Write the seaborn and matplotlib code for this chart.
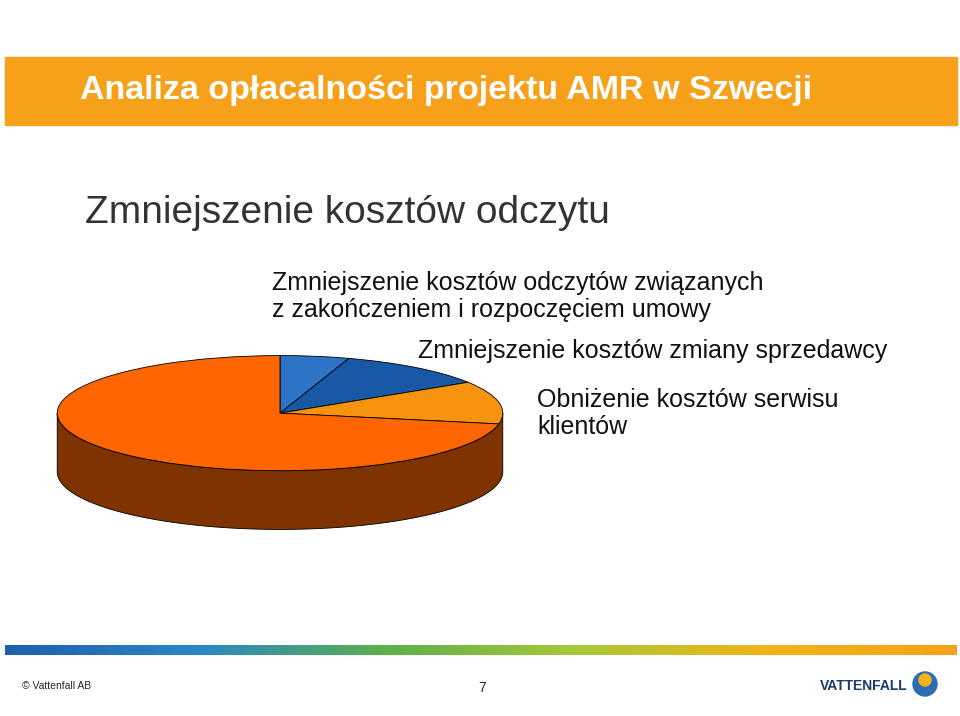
import numpy as np
import matplotlib
matplotlib.use("Agg")
import matplotlib.pyplot as plt
from matplotlib.colors import LinearSegmentedColormap
from matplotlib.patches import Rectangle, Polygon, Circle
import seaborn as sns

sns.set_style("white")
plt.rcParams["font.family"] = "Liberation Sans"

# --- data ---
SLICE_LABELS = ["Zmniejszenie kosztów odczytów związanych\nz zakończeniem i rozpoczęciem umowy",
                "Zmniejszenie kosztów zmiany sprzedawcy",
                "Obniżenie kosztów serwisu\nklientów",
                "Pozostałe"]
SLICE_VALUES = [5, 11, 12, 72]
SLICE_COLORS = ["#2E74C6", "#1858A4", "#F7930F", "#FF6500"]
SIDE_COLOR = "#7E3300"

TITLE = "Analiza opłacalności projektu AMR w Szwecji"
SUBTITLE = "Zmniejszenie kosztów odczytu"

W, H = 960, 716
fig = plt.figure(figsize=(W / 100, H / 100), dpi=100)
bg = fig.add_axes([0, 0, 1, 1])
bg.set_xlim(0, W)
bg.set_ylim(H, 0)
bg.axis("off")

# header bar
bg.add_patch(Rectangle((5, 57), 952, 68, color="#F7A11A", zorder=1))
bg.text(80, 91, TITLE, color="white", fontsize=24.5, fontweight="bold", va="center")
bg.text(85, 213, SUBTITLE, color="#333333", fontsize=28, va="center")

# slice labels
bg.text(272, 271, SLICE_LABELS[0], fontsize=18, va="top", linespacing=1.15, color="#111111")
bg.text(418, 351, SLICE_LABELS[1], fontsize=18, va="center", color="#111111")
bg.text(537, 388, SLICE_LABELS[2], fontsize=18, va="top", linespacing=1.15, color="#111111")

# footer gradient bar
cmap = LinearSegmentedColormap.from_list("vf", ["#1F5FAE", "#2A86C8", "#5DB04A", "#A8C838", "#F2B417", "#F7A11A"])
bg.imshow(np.linspace(0, 1, 256)[None, :], cmap=cmap, aspect="auto",
          extent=(5, 957, 655, 645), zorder=1)
bg.text(22, 686, "© Vattenfall AB", fontsize=7.5, va="center")
bg.text(482, 688, "7", fontsize=10, ha="center", va="center")
bg.text(820, 686, "VATTENFALL", fontsize=10, fontweight="bold", color="#1C3A6E", va="center")
bg.add_patch(Circle((925, 684), 12, color="#2C6DB5", zorder=2))
bg.add_patch(Circle((925, 680), 6, color="#F7B417", zorder=3))

# 3D-ish pie: top ellipse spans x 55..505, y 355..471; side depth ~59px
ax = fig.add_axes([55 / W, (H - 530) / H, 450 / W, 175 / H])
t = np.linspace(np.pi, 2 * np.pi, 200)
depth = 1.02
side = np.concatenate([np.c_[np.cos(t), np.sin(t)],
                       np.c_[np.cos(t[::-1]), np.sin(t[::-1]) - depth]])
ax.add_patch(Polygon(side, closed=True, facecolor=SIDE_COLOR, edgecolor="black", lw=0.6, zorder=1))
ax.pie(SLICE_VALUES, colors=SLICE_COLORS, startangle=90, counterclock=False,
       wedgeprops=dict(edgecolor="black", linewidth=0.6, zorder=2))
ax.set_aspect("auto")
ax.set_xlim(-1.01, 1.01)
ax.set_ylim(-1 - depth - 0.01, 1.01)
ax.axis("off")

fig.savefig("out.png", dpi=100)
